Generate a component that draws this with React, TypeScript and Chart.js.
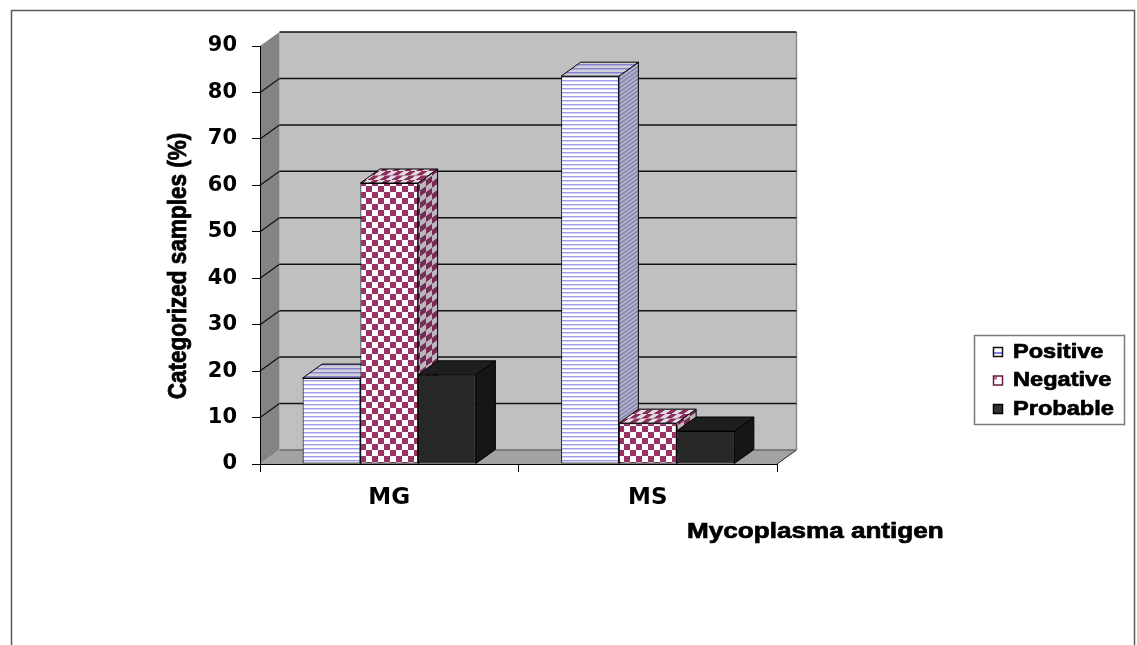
import React, { useEffect, useRef } from "react";
import { Chart, registerables } from "chart.js";

Chart.register(...registerables);

// ---- data ----
const categories = ["MG", "MS"];
const seriesNames = ["Positive", "Negative", "Probable"];
const positive = [18.5, 83.5];
const negative = [60.5, 8.8];
const probable = [19.2, 7.1];
const yMin = 0;
const yMax = 90;
const yStep = 10;
const xTitle = "Mycoplasma antigen";
const yTitle = "Categorized samples (%)";

// oblique depth of the 3-D box (screen pixels)
const DX = 19.5;
const DY = 14;

const TICK_FONT = "DejaVu Sans";
const TEXT_FONT = "Liberation Sans";

function makeTile(w: number, h: number, draw: (g: CanvasRenderingContext2D) => void) {
  const c = document.createElement("canvas");
  c.width = w;
  c.height = h;
  draw(c.getContext("2d") as CanvasRenderingContext2D);
  return c;
}

const stripeTile = makeTile(4, 4, (g) => {
  g.fillStyle = "#ffffff";
  g.fillRect(0, 0, 4, 4);
  g.fillStyle = "#9c9cf0";
  g.fillRect(0, 0, 4, 1);
  g.fillStyle = "#d6d6fa";
  g.fillRect(0, 1, 4, 1);
});

const checkTile = makeTile(12, 12, (g) => {
  g.fillStyle = "#ffffff";
  g.fillRect(0, 0, 12, 12);
  g.fillStyle = "#993366";
  g.fillRect(0, 0, 6, 6);
  g.fillRect(6, 6, 6, 6);
});

function pattern(ctx: CanvasRenderingContext2D, tile: HTMLCanvasElement, m?: number[]) {
  const p = ctx.createPattern(tile, "repeat") as CanvasPattern;
  if (m) p.setTransform(new DOMMatrix(m));
  return p;
}

function face(
  ctx: CanvasRenderingContext2D,
  pts: number[][],
  fill: string | CanvasPattern,
  overlay?: string
) {
  ctx.beginPath();
  pts.forEach(([x, y], i) => (i ? ctx.lineTo(x, y) : ctx.moveTo(x, y)));
  ctx.closePath();
  ctx.fillStyle = fill;
  ctx.fill();
  if (overlay) {
    ctx.fillStyle = overlay;
    ctx.fill();
  }
  ctx.strokeStyle = "#000";
  ctx.lineWidth = 1;
  ctx.stroke();
}

// heavy label text, optionally widened horizontally
function label(
  ctx: CanvasRenderingContext2D,
  text: string,
  x: number,
  y: number,
  size: number,
  opts: { align?: CanvasTextAlign; rotate?: boolean; stretch?: number } = {}
) {
  ctx.save();
  ctx.translate(x, y);
  if (opts.rotate) {
    ctx.rotate(-Math.PI / 2);
    ctx.scale(1, opts.stretch ?? 1);
  } else {
    ctx.scale(opts.stretch ?? 1, 1);
  }
  ctx.font = `bold ${size}px "${TEXT_FONT}"`;
  ctx.textAlign = opts.align ?? "left";
  ctx.textBaseline = "middle";
  ctx.fillStyle = "#000";
  ctx.strokeStyle = "#000";
  ctx.lineWidth = 0.7;
  ctx.fillText(text, 0, 0);
  ctx.strokeText(text, 0, 0);
  ctx.restore();
}

// walls, floor and back-wall gridlines
const boxPlugin = {
  id: "box3d",
  beforeDraw(chart: any) {
    const { ctx, chartArea } = chart;
    const ys = chart.scales.y;
    const L = chartArea.left;
    const R = chartArea.right;
    const T = ys.getPixelForValue(yMax);
    const B = ys.getPixelForValue(yMin);
    ctx.save();
    ctx.fillStyle = "#fff";
    ctx.fillRect(0, 0, chart.width, chart.height);

    // outer frame
    ctx.strokeStyle = "#5a5a5a";
    ctx.lineWidth = 1.5;
    ctx.strokeRect(11.5, 10.5, 1123, 700);

    // back wall
    ctx.fillStyle = "#c0c0c0";
    ctx.fillRect(L + DX, T - DY, R - L, B - T);
    ctx.strokeStyle = "#8a8a8a";
    ctx.lineWidth = 1.5;
    ctx.beginPath();
    ctx.moveTo(R + DX, T - DY);
    ctx.lineTo(R + DX, B - DY);
    ctx.stroke();

    // left side wall
    ctx.beginPath();
    ctx.moveTo(L, T);
    ctx.lineTo(L + DX, T - DY);
    ctx.lineTo(L + DX, B - DY);
    ctx.lineTo(L, B);
    ctx.closePath();
    ctx.fillStyle = "#848484";
    ctx.fill();

    // floor
    ctx.beginPath();
    ctx.moveTo(L, B);
    ctx.lineTo(R, B);
    ctx.lineTo(R + DX, B - DY);
    ctx.lineTo(L + DX, B - DY);
    ctx.closePath();
    ctx.fillStyle = "#a2a2a2";
    ctx.fill();
    ctx.strokeStyle = "#222";
    ctx.lineWidth = 1;
    ctx.beginPath();
    ctx.moveTo(R, B);
    ctx.lineTo(R + DX, B - DY);
    ctx.stroke();

    // gridlines
    for (const t of ys.ticks) {
      const yf = ys.getPixelForValue(t.value);
      const yb = yf - DY;
      ctx.strokeStyle = t.value === yMin ? "#6a6a6a" : "#111";
      ctx.lineWidth = 1.5;
      ctx.beginPath();
      ctx.moveTo(L + DX, yb);
      ctx.lineTo(R + DX, yb);
      ctx.stroke();
      if (t.value !== yMin && t.value !== yMax) {
        ctx.lineWidth = 1.2;
        ctx.beginPath();
        ctx.moveTo(L, yf);
        ctx.lineTo(L + DX, yb);
        ctx.stroke();
      }
    }
    ctx.restore();
  },

  // top and side faces of each column, painted left to right
  beforeDatasetsDraw(chart: any) {
    const { ctx } = chart;
    const k = DX / DY;
    const styles = [
      {
        top: pattern(ctx, stripeTile),
        topOver: "rgba(40,40,90,0.22)",
        side: pattern(ctx, stripeTile, [1, -1 / k, 0, 1, 0, 0]),
        sideOver: "rgba(40,40,80,0.35)",
      },
      {
        top: pattern(ctx, checkTile, [1, 0, -k * 0.75, 0.75, 0, 0]),
        topOver: "rgba(60,20,50,0.15)",
        side: pattern(ctx, checkTile, [1, -1 / k, 0, 1, 0, 0]),
        sideOver: "rgba(50,30,50,0.32)",
      },
      { top: "#1e1e1e", topOver: undefined, side: "#161616", sideOver: undefined },
    ];
    ctx.save();
    for (let i = 0; i < categories.length; i++) {
      for (let d = 0; d < chart.data.datasets.length; d++) {
        const el = chart.getDatasetMeta(d).data[i];
        if (!el) continue;
        const { x, y, base, width } = el.getProps(["x", "y", "base", "width"], true);
        const l = x - width / 2;
        const r = x + width / 2;
        const s = styles[d];
        face(ctx, [[r, y], [r + DX, y - DY], [r + DX, base - DY], [r, base]], s.side, s.sideOver);
        face(ctx, [[l, y], [r, y], [r + DX, y - DY], [l + DX, y - DY]], s.top, s.topOver);
      }
    }
    ctx.restore();
  },

  afterDraw(chart: any) {
    const { ctx } = chart;
    ctx.save();

    label(ctx, yTitle, 179, 266, 22.5, { align: "center", rotate: true, stretch: 1.15 });
    label(ctx, xTitle, 687, 532, 22.5, { align: "left", stretch: 1.16 });

    // legend
    ctx.strokeStyle = "#7a7a7a";
    ctx.lineWidth = 1.5;
    ctx.strokeRect(974.5, 335.5, 150, 89);
    const rowY = [352, 380.5, 409];
    chart.data.datasets.forEach((ds: any, i: number) => {
      const cy = rowY[i];
      const sx = 993;
      const sy = cy - 5;
      if (i === 0) {
        ctx.fillStyle = "#fff";
        ctx.fillRect(sx, sy, 10, 10);
        ctx.fillStyle = "#8080f0";
        ctx.fillRect(sx, sy + 5, 10, 2);
        ctx.strokeStyle = "#111";
      } else if (i === 1) {
        ctx.fillStyle = "#fff";
        ctx.fillRect(sx, sy, 10, 10);
        ctx.fillStyle = "#c07090";
        ctx.fillRect(sx + 1, sy + 1, 3, 3);
        ctx.strokeStyle = "#6a1a40";
      } else {
        ctx.fillStyle = "#333";
        ctx.fillRect(sx, sy, 10, 10);
        ctx.strokeStyle = "#000";
      }
      ctx.lineWidth = 1.5;
      ctx.strokeRect(sx + 0.5, sy + 0.5, 9, 9);
      label(ctx, ds.label, 1013, cy, 20.5, { align: "left", stretch: 1.15 });
    });
    ctx.restore();
  },
};

export default function App() {
  const ref = useRef<HTMLCanvasElement>(null);

  useEffect(() => {
    const canvas = ref.current as HTMLCanvasElement;
    const ctx = canvas.getContext("2d") as CanvasRenderingContext2D;
    const common = { borderColor: "#000", borderWidth: 1, borderSkipped: false as const };
    const chart = new Chart(canvas, {
      type: "bar",
      data: {
        labels: categories,
        datasets: [
          { label: seriesNames[0], data: positive, backgroundColor: pattern(ctx, stripeTile), ...common },
          { label: seriesNames[1], data: negative, backgroundColor: pattern(ctx, checkTile), ...common },
          { label: seriesNames[2], data: probable, backgroundColor: "#282828", ...common },
        ],
      },
      options: {
        responsive: false,
        animation: false,
        layout: { padding: { left: 100, top: 46, right: 360, bottom: 121 } },
        datasets: { bar: { categoryPercentage: 0.67, barPercentage: 1 } },
        scales: {
          x: {
            grid: { offset: true, drawOnChartArea: false, drawTicks: true, tickLength: 8, color: "#000" },
            border: { color: "#000", width: 1 },
            ticks: {
              color: "#000",
              padding: 12,
              maxRotation: 0,
              font: { family: TICK_FONT, weight: "bold", size: 23 },
            },
            afterFit: (s: any) => {
              s.height = 60;
            },
          },
          y: {
            min: yMin,
            max: yMax,
            grid: { drawOnChartArea: false, drawTicks: true, tickLength: 8, color: "#000" },
            border: { color: "#000", width: 1 },
            ticks: {
              stepSize: yStep,
              color: "#000",
              padding: 15,
              font: { family: TICK_FONT, weight: "bold", size: 21 },
            },
            afterFit: (s: any) => {
              s.width = 160;
            },
          },
        },
        plugins: {
          legend: { display: false },
          tooltip: { enabled: false },
        },
      },
      plugins: [boxPlugin],
    } as any);
    return () => chart.destroy();
  }, []);

  return (
    <div style={{ position: "fixed", left: 0, top: 0, width: 1137, height: 645, background: "#fff" }}>
      <canvas ref={ref} width={1137} height={645} style={{ display: "block" }} />
    </div>
  );
}
